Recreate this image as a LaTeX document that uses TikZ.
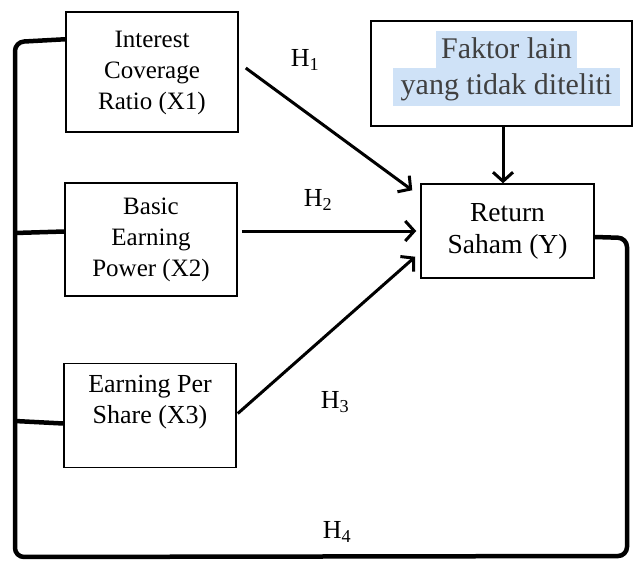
\documentclass[tikz,border=0pt]{standalone}
\usepackage{fontspec}
\IfFontExistsTF{Liberation Serif}{\setmainfont{Liberation Serif}}{}
\usetikzlibrary{arrows.meta,calc}
\definecolor{hl}{RGB}{207,226,247}
\definecolor{ftxt}{RGB}{64,64,64}
\begin{document}
\begin{tikzpicture}[x=1pt,y=-1pt,
  box/.style={draw,line width=1.5pt,inner sep=0pt,align=center,font=\fontsize{25}{31}\selectfont},
  arr/.style={line width=3pt,-{Straight Barb[length=9pt,width=20pt,line width=3pt]}},
  brk/.style={line width=4.5pt,rounded corners=9pt},
  hlab/.style={font=\fontsize{26}{28}\selectfont}]
\useasboundingbox (0,0) rectangle (633,562);
% boxes
\node[box,minimum width=172pt,minimum height=120pt] (x1) at (152,72) {\raisebox{3pt}{\begin{tabular}{@{}c@{}}Interest\\Coverage\\Ratio (X1)\end{tabular}}};
\node[box,minimum width=172pt,minimum height=113pt] (x2) at (151,239.5) {Basic\\Earning\\Power (X2)};
\node[box,minimum width=172pt,minimum height=104pt] (x3) at (150,415.5) {};
\node[font=\fontsize{26}{31}\selectfont,align=center] (x3t) at (150,402) {Earning Per\\Share (X3)};
\node[box,minimum width=173pt,minimum height=94pt,font=\fontsize{27.5}{32}\selectfont] (y) at (507.5,231) {\raisebox{-3pt}{\begin{tabular}{@{}c@{}}Return\\Saham (Y)\end{tabular}}};
\node[box,minimum width=261pt,minimum height=105pt] (f) at (501.5,73.5) {};
\fill[hl] (436,31) rectangle (577,68.5);
\fill[hl] (393,68) rectangle (620,106);
\node[font=\fontsize{30}{36}\selectfont,text=ftxt,align=center] (ft) at (506.5,69) {Faktor lain\\yang tidak diteliti};
% arrows
\draw[arr] ($(x1.east)+(7,-4)$) -- ($(y.north west)+(-8,7)$);
\draw[arr] ($(x2.east)+(4,-8.5)$) -- ($(y.west)+(-4,0)$);
\draw[arr] ($(x3.east)+(1,-2)$) -- ($(y.south west)+(-5,-22)$);
\draw[arr] (f.south -| 503,0) -- (y.north -| 503,0);
% labels
\node[hlab] (h1) at (305,60) {H\textsubscript{1}};
\node[hlab] (h2) at (318,200) {H\textsubscript{2}};
\node[hlab] (h3) at (335,402) {H\textsubscript{3}};
\node[hlab] (h4) at (337,532) {H\textsubscript{4}};
% bracket
\draw[brk] ($(x1.north west)+(0,28)$) -- (15,42) -- (15,557) -- (627,556) -- (627,238) -- ($(y.east)+(0,6)$);
\draw[line width=4.5pt] ($(x2.west)+(0,-8)$) -- (15,233);
\draw[line width=4.5pt] ($(x3.west)+(0,8)$) -- (15,421);
\end{tikzpicture}
\end{document}
